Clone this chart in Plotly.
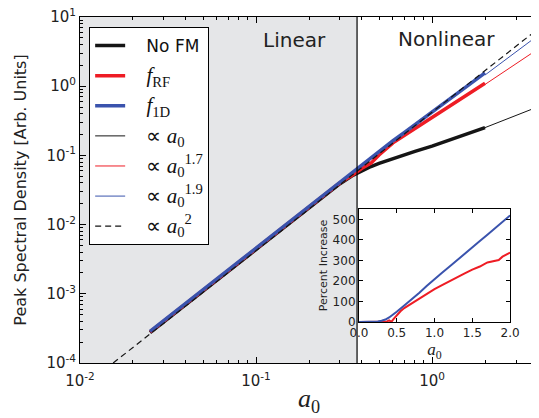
import plotly.graph_objects as go

# ---------------- data ----------------
a0 = [0.025, 0.03, 0.04, 0.05, 0.06, 0.08, 0.1, 0.12, 0.15, 0.2, 0.25, 0.3, 0.35,
      0.4, 0.45, 0.5, 0.6, 0.7, 0.8, 1.0, 1.2, 1.4, 1.6, 1.8, 2.0]
no_fm = [2.75e-4, 3.96e-4, 7.04e-4, 1.10e-3, 1.584e-3, 2.816e-3, 4.4e-3, 6.34e-3, 9.9e-3,
         0.0176, 0.0275, 0.0390, 0.0503, 0.0603, 0.069, 0.0767, 0.0906, 0.103, 0.1145,
         0.136, 0.159, 0.1826, 0.2045, 0.229, 0.252]
f_rf = [2.81e-4, 4.05e-4, 7.2e-4, 1.125e-3, 1.62e-3, 2.88e-3, 4.5e-3, 6.48e-3, 1.013e-2,
        0.0180, 0.0281, 0.0402, 0.0513, 0.0651, 0.0773, 0.1012, 0.152, 0.198, 0.245,
        0.354, 0.477, 0.615, 0.757, 0.911, 1.104]
f_1d = [2.875e-4, 4.14e-4, 7.36e-4, 1.15e-3, 1.656e-3, 2.944e-3, 4.6e-3, 6.62e-3, 1.035e-2,
        0.0184, 0.02875, 0.0414, 0.0564, 0.0736, 0.0932, 0.115, 0.163, 0.216, 0.277,
        0.420, 0.590, 0.785, 1.010, 1.270, 1.560]

# guide (power-law) lines
guide_x = [2.0, 4.0]
guide_a1 = [0.252, 0.504]
guide_a17 = [1.060, 3.444]
guide_a19 = [1.450, 5.411]
square_x = [0.01543, 4.0]
square_y = [1.0e-4, 6.72]

boundary_a0 = 0.375

# inset: percent increase
inset_blue_x = [0.0, 0.1, 0.2, 0.25, 0.3, 0.35, 0.4, 0.45, 0.5, 0.6, 0.7, 0.8, 0.9,
                1.0, 1.1, 1.2, 1.3, 1.4, 1.5, 1.6, 1.7, 1.8, 1.9, 2.0]
inset_blue = [0, 0, 1, 3, 6, 12, 22, 35, 50, 80, 110, 142, 176,
              209, 240, 270, 300, 330, 362, 394, 425, 455, 488, 519]
inset_red_x = [0.0, 0.1, 0.2, 0.3, 0.36, 0.40, 0.43, 0.46, 0.5, 0.55, 0.6, 0.7, 0.8,
               0.9, 1.0, 1.1, 1.2, 1.3, 1.4, 1.5, 1.6, 1.7, 1.8, 1.85, 1.9, 2.0]
inset_red = [0, 0, 0, 0, 1, 8, 1, 15, 32, 52, 68, 92, 114,
             137, 160, 180, 200, 218, 237, 255, 270, 290, 298, 302, 318, 338]

x_tickvals = [0.01, 0.1, 1]
x_ticktext = ["10<sup>-2</sup>", "10<sup>-1</sup>", "10<sup>0</sup>"]
y_tickvals = [1e-4, 1e-3, 1e-2, 1e-1, 1, 10]
y_ticktext = ["10<sup>-4</sup>", "10<sup>-3</sup>", "10<sup>-2</sup>",
              "10<sup>-1</sup>", "10<sup>0</sup>", "10<sup>1</sup>"]

BLACK = "#151515"
RED = "#ee1c24"
BLUE = "#3a53ad"
SERIF = "Liberation Serif"
PAD = "&nbsp;&nbsp;&nbsp;"

def math(s, size=21):
    return '<span style="font-family:%s;font-size:%dpx">%s</span>' % (SERIF, size, s)

x_minor = [m * 10 ** k for k in (-2, -1, 0) for m in range(2, 10) if m * 10 ** k <= 4]
y_minor = [m * 10 ** k for k in (-4, -3, -2, -1, 0) for m in range(2, 10)]

fig = go.Figure()
fig.add_trace(go.Scatter(x=a0, y=no_fm, mode="lines", name=PAD + "No FM",
                         line=dict(color=BLACK, width=3.5), legendgroup="g1"))
fig.add_trace(go.Scatter(x=a0, y=f_rf, mode="lines",
                         name=PAD + math("<i>f</i><sub>RF</sub>"),
                         line=dict(color=RED, width=3.5), legendgroup="g2"))
fig.add_trace(go.Scatter(x=a0, y=f_1d, mode="lines",
                         name=PAD + math("<i>f</i><sub>1D</sub>"),
                         line=dict(color=BLUE, width=3.5), legendgroup="g3"))
fig.add_trace(go.Scatter(x=guide_x, y=guide_a1, mode="lines",
                         name=PAD + math("∝ <i>a</i><sub>0</sub>"),
                         line=dict(color=BLACK, width=1), legendgroup="g4"))
fig.add_trace(go.Scatter(x=guide_x, y=guide_a17, mode="lines",
                         name=PAD + math("∝ <i>a</i><sub>0</sub><sup>1.7</sup>"),
                         line=dict(color=RED, width=1), legendgroup="g5"))
fig.add_trace(go.Scatter(x=guide_x, y=guide_a19, mode="lines",
                         name=PAD + math("∝ <i>a</i><sub>0</sub><sup>1.9</sup>"),
                         line=dict(color=BLUE, width=1), legendgroup="g6"))
fig.add_trace(go.Scatter(x=square_x, y=square_y, mode="lines",
                         name=PAD + math("∝ <i>a</i><sub>0</sub><sup>2</sup>"),
                         line=dict(color=BLACK, width=1.2, dash="6px,4px"), legendgroup="g7"))

# inset
fig.add_trace(go.Scatter(x=inset_red_x, y=inset_red, mode="lines", showlegend=False,
                         line=dict(color=RED, width=2), xaxis="x2", yaxis="y2"))
fig.add_trace(go.Scatter(x=inset_blue_x, y=inset_blue, mode="lines", showlegend=False,
                         line=dict(color=BLUE, width=2), xaxis="x2", yaxis="y2"))

axis_common = dict(showline=True, linecolor="black", linewidth=1, mirror="allticks",
                   ticks="inside", tickcolor="black", showgrid=False, zeroline=False,
                   automargin=False, ticklabeloverflow="allow")

fig.update_layout(
    width=539, height=418,
    margin=dict(l=72, r=9, t=9, b=63, autoexpand=False),
    plot_bgcolor="white", paper_bgcolor="white",
    font=dict(family="DejaVu Sans", color="#222222", size=15),
    xaxis=dict(type="log", range=[-2, 0.60206], domain=[0, 1],
               tickmode="array", tickvals=x_tickvals, ticktext=x_ticktext,
               ticklen=6, tickfont=dict(size=15), ticklabelstandoff=4,
               minor=dict(tickmode="array", tickvals=x_minor, ticks="inside",
                          ticklen=3, tickcolor="black", showgrid=False),
               title=dict(text=math("<i>a</i><sub>0</sub>", 26), standoff=5),
               **axis_common),
    yaxis=dict(type="log", range=[-4, 1], domain=[0, 1],
               tickmode="array", tickvals=y_tickvals, ticktext=y_ticktext,
               ticklen=6, tickfont=dict(size=15),
               minor=dict(tickmode="array", tickvals=y_minor, ticks="inside",
                          ticklen=3, tickcolor="black", showgrid=False),
               title=dict(text="Peak Spectral Density [Arb. Units]", font=dict(size=16),
                          standoff=15),
               **axis_common),
    xaxis2=dict(domain=[0.609, 0.939], anchor="y2", range=[0, 2],
                tickmode="linear", tick0=0, dtick=0.5, tickformat=".1f",
                ticklen=4, tickfont=dict(size=12),
                title=dict(text=math("<i>a</i><sub>0</sub>", 17), standoff=0),
                **axis_common),
    yaxis2=dict(domain=[0.1185, 0.445], anchor="x2", range=[0, 550],
                tickmode="linear", tick0=0, dtick=100,
                ticklen=4, tickfont=dict(size=12),
                title=dict(text="Percent Increase", font=dict(size=11), standoff=2),
                **axis_common),
    legend=dict(x=0.02, y=0.971, xanchor="left", yanchor="top",
                bgcolor="white", bordercolor="black", borderwidth=1,
                font=dict(size=17, color="#111111"), tracegroupgap=5,
                itemwidth=30),
    shapes=[
        dict(type="rect", xref="x", yref="paper", x0=0.01, x1=boundary_a0, y0=0, y1=1,
             fillcolor="#e5e6e8", line=dict(width=0), layer="below"),
        dict(type="line", xref="x", yref="paper", x0=boundary_a0, x1=boundary_a0,
             y0=0, y1=1, line=dict(color="black", width=1.2)),
    ],
    annotations=[
        dict(text="Linear", xref="paper", yref="paper", x=0.469, y=0.933,
             xanchor="center", yanchor="middle",
             showarrow=False, font=dict(size=20, color="#222222")),
        dict(text="Nonlinear", xref="paper", yref="paper", x=0.801, y=0.936,
             xanchor="center", yanchor="middle",
             showarrow=False, font=dict(size=20, color="#222222")),
    ],
)

fig.write_html("out.html")
